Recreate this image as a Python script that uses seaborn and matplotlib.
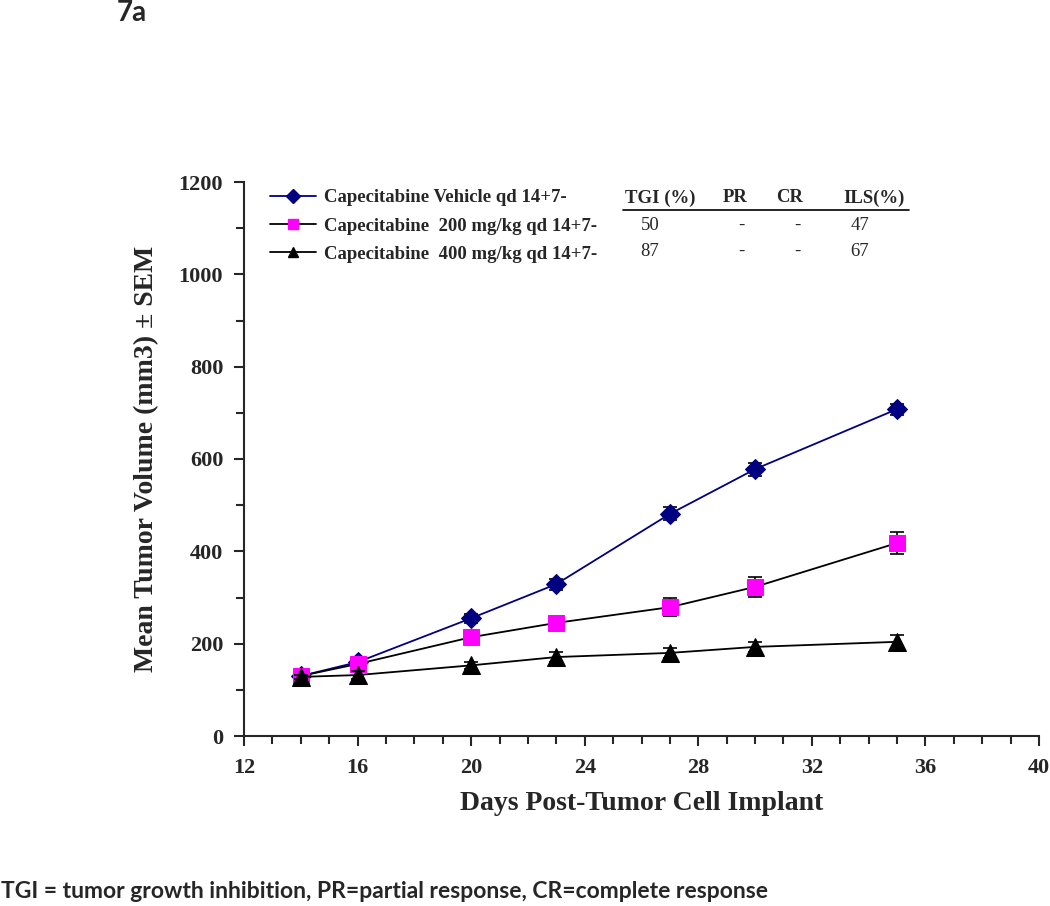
import matplotlib
matplotlib.use("Agg")
import matplotlib.pyplot as plt
from matplotlib.lines import Line2D
from matplotlib.ticker import MultipleLocator
import pandas as pd
import seaborn as sns

# data (mean +/- SEM)
days = [14, 16, 20, 23, 27, 30, 35]
vehicle = [130, 160, 255, 329, 481, 578, 708]
vehicle_sem = [5, 8, 10, 12, 14, 14, 12]
cap200 = [130, 156, 214, 245, 279, 323, 418]
cap200_sem = [5, 10, 10, 10, 20, 22, 23]
cap400 = [128, 132, 153, 171, 180, 193, 204]
cap400_sem = [5, 8, 8, 10, 10, 10, 15]

groups = ["Capecitabine Vehicle qd 14+7-",
          "Capecitabine  200 mg/kg qd 14+7-",
          "Capecitabine  400 mg/kg qd 14+7-"]
marker_colors = ["#000080", "#FF00FF", "#000000"]
line_colors = ["#000080", "#000000", "#000000"]
markers = ["D", "s", "^"]
marker_sizes = [10, 12, 13]

# table in the legend area
table_cols = ["TGI (%)", "PR", "CR", "ILS(%)"]
tgi = ["50", "87"]
pr = ["-", "-"]
cr = ["-", "-"]
ils = ["47", "67"]

series = [(vehicle, vehicle_sem), (cap200, cap200_sem), (cap400, cap400_sem)]
rows = []
for g, (vals, sem) in zip(groups, series):
    for d, v, s in zip(days, vals, sem):
        rows.append({"day": d, "volume": v, "err": s, "group": g})
df = pd.DataFrame(rows)

sns.set_style("ticks")
plt.rcParams["font.family"] = ["Liberation Serif", "DejaVu Serif"]

fig = plt.figure(figsize=(10.5, 9.06), dpi=100)
ax = fig.add_axes([244 / 1050, 1 - 736 / 906, 795 / 1050, 554 / 906])

for i, g in enumerate(groups):
    sub = df[df["group"] == g]
    ax.errorbar(sub["day"], sub["volume"], yerr=sub["err"], fmt="none", ecolor="black",
                elinewidth=1.2, capsize=5, capthick=1.2, zorder=2 + i)
    sns.lineplot(data=sub, x="day", y="volume", ax=ax, color=line_colors[i],
                 marker=markers[i], markersize=marker_sizes[i],
                 markerfacecolor=marker_colors[i], markeredgecolor=marker_colors[i],
                 linewidth=1.3, errorbar=None, zorder=3 + i)

ax.set_xlim(12, 40)
ax.set_ylim(0, 1200)
ax.xaxis.set_major_locator(MultipleLocator(4))
ax.xaxis.set_minor_locator(MultipleLocator(1))
ax.yaxis.set_major_locator(MultipleLocator(200))
ax.yaxis.set_minor_locator(MultipleLocator(100))
ax.tick_params(which="major", direction="out", length=7, width=1.5, labelsize=16)
ax.tick_params(which="minor", direction="out", length=6, width=1.5)
ax.tick_params(axis="x", which="major", pad=9)
ax.tick_params(axis="y", which="major", pad=8)
for lab in ax.get_xticklabels() + ax.get_yticklabels():
    lab.set_fontweight("bold")
sns.despine(ax=ax)
for sp in ["left", "bottom"]:
    ax.spines[sp].set_linewidth(1.5)

ax.set_xlabel("Days Post-Tumor Cell Implant", fontsize=20, fontweight="bold", labelpad=9)
ax.set_ylabel("Mean Tumor Volume (mm3) \u00b1 SEM", fontsize=20, fontweight="bold", labelpad=14)

# legend
handles = [Line2D([], [], color=line_colors[i], marker=markers[i], markersize=7,
                  markerfacecolor=marker_colors[i], markeredgecolor=marker_colors[i], lw=1.3)
           for i in range(3)]
ax.legend(handles, groups, loc="upper left", bbox_to_anchor=(270 / 1050, 1 - 189 / 906),
          bbox_transform=fig.transFigure, frameon=False, handlelength=2.45,
          handletextpad=0.45, labelspacing=0.6, borderaxespad=0, borderpad=0,
          prop={"family": "Liberation Serif", "weight": "bold", "size": 13.5})

# table
head_x = [660, 735, 790, 874]
val_x = [650, 741, 797, 860]
for x, t in zip(head_x, table_cols):
    fig.text(x / 1050, 1 - 198 / 906, t, ha="center", va="center",
             fontsize=13.5, fontweight="bold")
fig.add_artist(Line2D([623 / 1050, 909 / 1050], [1 - 210 / 906, 1 - 210 / 906],
                      color="black", lw=1.2, transform=fig.transFigure))
for r, yy in enumerate([225, 251]):
    for x, col in zip(val_x, [tgi, pr, cr, ils]):
        fig.text(x / 1050, 1 - yy / 906, col[r], ha="center", va="center", fontsize=13.5)

fig.text(117 / 1050, 1 - 13 / 906, "7a", fontsize=20, fontweight="bold",
         family=["Lato", "DejaVu Sans"], va="center")
fig.text(1 / 1050, 1 - 891 / 906,
         "TGI = tumor growth inhibition, PR=partial response, CR=complete response",
         fontsize=16.5, fontweight="bold", family=["Lato", "DejaVu Sans"], va="center")

fig.savefig("out.png", dpi=100)
